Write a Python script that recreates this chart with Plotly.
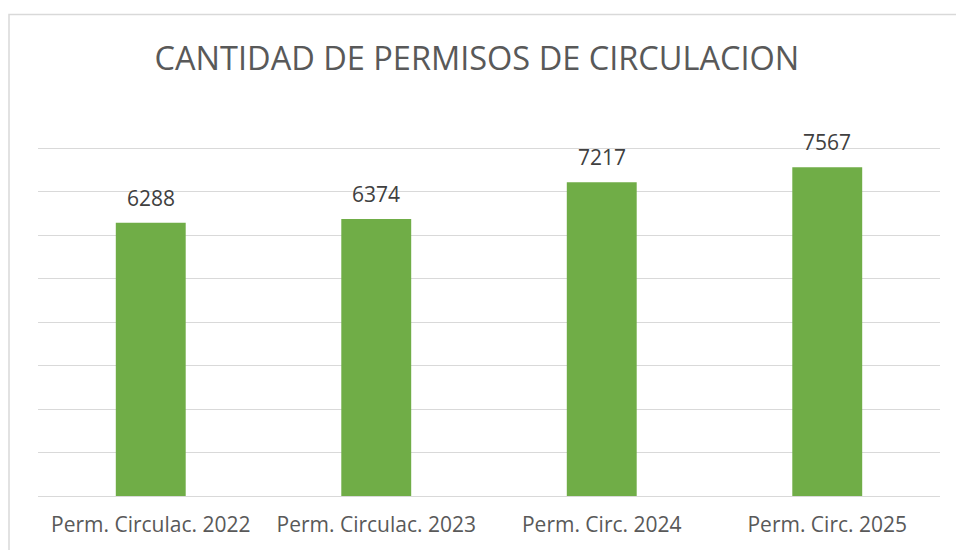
import plotly.graph_objects as go

categories = ["Perm. Circulac. 2022", "Perm. Circulac. 2023", "Perm. Circ. 2024", "Perm. Circ. 2025"]
values = [6288, 6374, 7217, 7567]

FONT = "Open Sans"
GREY = "#595959"

fig = go.Figure()
fig.add_trace(go.Bar(x=categories, y=values, marker=dict(color="#70ad47", line=dict(width=0)),
                     hoverinfo="x+y"))

for c, v in zip(categories, values):
    fig.add_annotation(x=c, y=v, text=str(v), showarrow=False, yshift=25,
                       font=dict(family=FONT, size=21, color="#404040"))

YMAX = 8100
L, R, B = 38, 16, 54
W, H = 956, 550
ph = 348 * YMAX / 8000
T = H - B - ph
pw = W - L - R
def px(x): return (x - L) / pw
def py(y): return (H - B - y) / ph

fig.add_shape(type="rect", xref="paper", yref="paper",
              x0=px(9), x1=px(962), y0=py(560), y1=py(14),
              line=dict(color="#d9d9d9", width=1.5), layer="below")

fig.update_layout(
    width=W, height=H,
    margin=dict(l=L, r=R, t=T, b=B),
    paper_bgcolor="white", plot_bgcolor="white",
    bargap=0.69,
    showlegend=False,
    title=dict(text="CANTIDAD DE PERMISOS DE CIRCULACION", x=px(488), xanchor="center",
               y=1 - 59 / H, yanchor="middle",
               font=dict(family=FONT, size=32.5, color=GREY)),
    xaxis=dict(showgrid=False, showline=False, ticks="", ticklabelstandoff=14,
               tickfont=dict(family=FONT, size=21, color=GREY)),
    yaxis=dict(range=[0, YMAX], tickvals=list(range(0, 8001, 1000)), showgrid=True,
               gridcolor="#d9d9d9", gridwidth=1,
               zeroline=True, zerolinecolor="#d9d9d9", zerolinewidth=1,
               showticklabels=False, ticks="", fixedrange=True),
)

fig.write_html("out.html", config={"displayModeBar": False},
               post_script="document.body.style.margin='0';")
